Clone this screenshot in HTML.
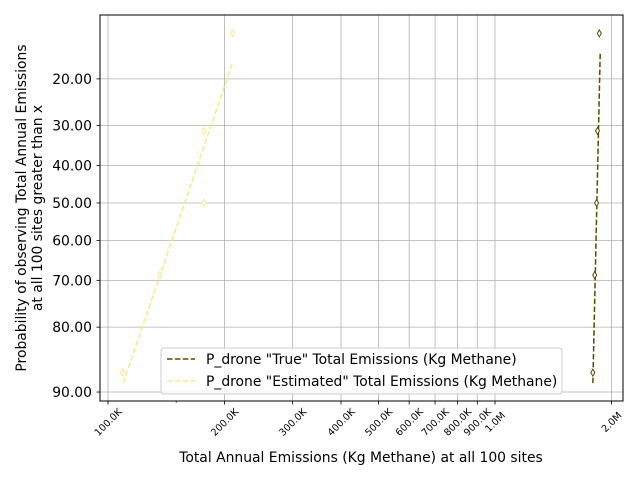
<!DOCTYPE html>
<html><head><meta charset="utf-8"><style>
body{margin:0;background:#fff;}
svg text{font-family:"DejaVu Sans","Liberation Sans",sans-serif;}
</style></head><body>
<svg id="chart" width="640" height="480" viewBox="0 0 640 480" xmlns="http://www.w3.org/2000/svg">
<rect width="640" height="480" fill="#fff"/>
<g id="grid"></g>
<g id="series"></g>
<rect x="100" y="15" width="523" height="386" fill="none" stroke="#000" stroke-width="1"/>
<g id="axes"></g>
<text x="361" y="462" font-size="13.9" text-anchor="middle">Total Annual Emissions (Kg Methane) at all 100 sites</text>
<text transform="translate(26,208) rotate(-90)" font-size="13.9" text-anchor="middle">Probability of observing Total Annual Emissions</text>
<text transform="translate(42,208) rotate(-90)" font-size="13.9" text-anchor="middle">at all 100 sites greater than x</text>
<g>
<rect x="161" y="348" width="401" height="46" rx="3" fill="#fff" fill-opacity="0.8" stroke="#ccc"/>
<line x1="167" y1="359" x2="195" y2="359" stroke="#5c4a00" stroke-width="1.5" stroke-dasharray="5.5,2.4"/>
<text x="206" y="364" font-size="13.9">P_drone "True" Total Emissions (Kg Methane)</text>
<line x1="167" y1="381" x2="195" y2="381" stroke="#fde68a" stroke-width="1.5" stroke-dasharray="5.5,2.4"/>
<text x="206" y="386" font-size="13.9">P_drone "Estimated" Total Emissions (Kg Methane)</text>
</g>
</svg>
<script>
const xTickValues=[100000,200000,300000,400000,500000,600000,700000,800000,900000,1000000,2000000];
const xTickLabels=["100.0K","200.0K","300.0K","400.0K","500.0K","600.0K","700.0K","800.0K","900.0K","1.0M","2.0M"];
const yTickValues=[0.2,0.3,0.4,0.5,0.6,0.7,0.8,0.9];
const yTickLabels=["20.00","30.00","40.00","50.00","60.00","70.00","80.00","90.00"];
const estX=[109000,136000,177000,177000,210000];
const estP=[0.875,0.6875,0.5,0.3125,0.125];
const estFitX=[109500,210000];
const estFitP=[0.889,0.17];
const trueX=[1790000,1810000,1830000,1840000,1860000];
const trueP=[0.875,0.6875,0.5,0.3125,0.125];
const trueFitX=[1790000,1870000];
const trueFitP=[0.889,0.155];

function probit(p){
  const a=[-39.6968302866538,220.946098424521,-275.928510446969,138.357751867269,-30.6647980661472,2.50662827745924];
  const b=[-54.4760987982241,161.585836858041,-155.698979859887,66.8013118877197,-13.2806815528857];
  const c=[-0.00778489400243029,-0.322396458041136,-2.40075827716184,-2.54973253934373,4.37466414146497,2.93816398269878];
  const d=[0.00778469570904146,0.32246712907004,2.445134137143,3.75440866190742];
  let q,r;
  if(p<0.02425){q=Math.sqrt(-2*Math.log(p));return (((((c[0]*q+c[1])*q+c[2])*q+c[3])*q+c[4])*q+c[5])/((((d[0]*q+d[1])*q+d[2])*q+d[3])*q+1);}
  if(p>1-0.02425){q=Math.sqrt(-2*Math.log(1-p));return -(((((c[0]*q+c[1])*q+c[2])*q+c[3])*q+c[4])*q+c[5])/((((d[0]*q+d[1])*q+d[2])*q+d[3])*q+1);}
  q=p-0.5;r=q*q;
  return (((((a[0]*r+a[1])*r+a[2])*r+a[3])*r+a[4])*r+a[5])*q/(((((b[0]*r+b[1])*r+b[2])*r+b[3])*r+b[4])*r+1);
}
function xs(v){return 108+387*Math.log10(v/100000);}
function ys(p){return 203+147.5*probit(p);}
const NS="http://www.w3.org/2000/svg";
function mk(tag,attrs,parent){const e=document.createElementNS(NS,tag);for(const k in attrs)e.setAttribute(k,attrs[k]);parent.appendChild(e);return e;}
const grid=document.getElementById('grid'),axes=document.getElementById('axes'),series=document.getElementById('series');
xTickValues.forEach((v,i)=>{
  const x=xs(v);
  const g=mk('line',{x1:x,x2:x,y1:15,y2:401,stroke:'#b0b0b0','stroke-width':0.8},grid);
  
  
  mk('line',{x1:x,x2:x,y1:401,y2:404.5,stroke:'#000','stroke-width':0.8},axes);
  const t=mk('text',{transform:`translate(${x},${422}) rotate(-45)`,'font-size':9.7,'text-anchor':'middle',dy:'0.35em'},axes);
  t.textContent=xTickLabels[i];
  
  
});
[150000].forEach(v=>{const x=xs(v);mk('line',{x1:x,x2:x,y1:401,y2:403,stroke:'#000','stroke-width':0.6},axes);});
yTickValues.forEach((p,i)=>{
  const y=ys(p);
  const g=mk('line',{x1:100,x2:623,y1:y,y2:y,stroke:'#b0b0b0','stroke-width':0.8},grid);
  
  
  mk('line',{x1:96.5,x2:100,y1:y,y2:y,stroke:'#000','stroke-width':0.8},axes);
  const t=mk('text',{x:92,y:y+5,'font-size':13.9,'text-anchor':'end'},axes);
  t.textContent=yTickLabels[i];
  
  
});
function drawSeries(fx,fp,px,pp,color,name){
  const l=mk('line',{x1:xs(fx[0]),y1:ys(fp[0]),x2:xs(fx[1]),y2:ys(fp[1]),stroke:color,'stroke-width':1.5,'stroke-dasharray':'5.5,2.4'},series);
  
  
  px.forEach((v,i)=>{
    const x=xs(v),y=ys(pp[i]);
    const m=mk('path',{d:`M${x},${y-3.5}L${x+2},${y}L${x},${y+3.5}L${x-2},${y}Z`,fill:'#fff',stroke:color,'stroke-width':1},series);
    
    
  });
}
drawSeries(estFitX,estFitP,estX,estP,'#fde68a','estimated');
drawSeries(trueFitX,trueFitP,trueX,trueP,'#5c4a00','true');
</script>
</body></html>
